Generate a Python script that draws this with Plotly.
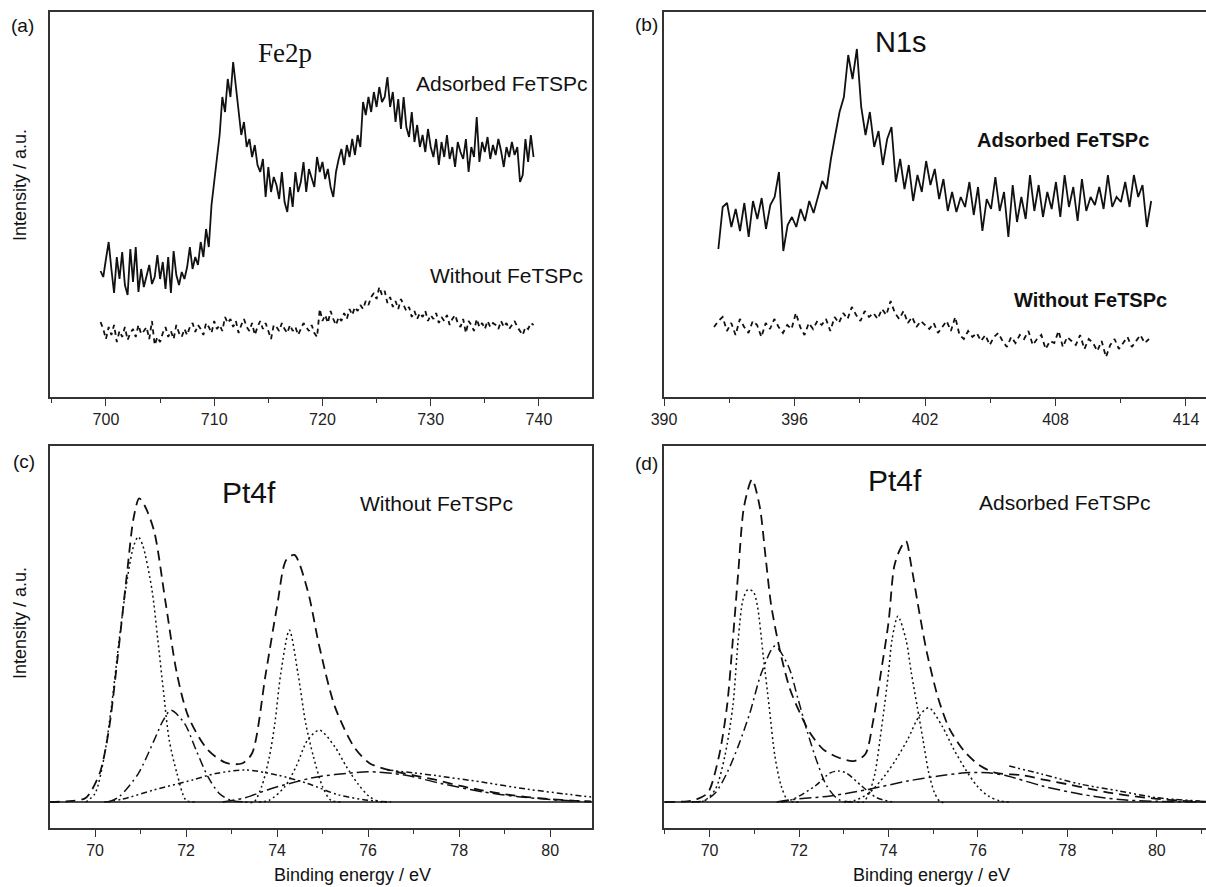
import numpy as np
import plotly.graph_objects as go

W, H = 1206, 887

# ---------------- Panel (a): Fe2p ----------------
a_adsorbed_range = (699.5, 739.5)
a_adsorbed = [126, 120, 138, 155, 128, 104, 140, 118, 145, 112, 102, 148, 115, 150, 105, 128,
              110, 122, 132, 113, 120, 142, 118, 135, 108, 140, 104, 146, 122, 112, 125, 118,
              130, 150, 128, 140, 132, 155, 140, 168, 150, 192, 215, 240, 262, 300, 285, 318,
              300, 335, 312, 290, 262, 275, 250, 258, 240, 252, 232, 225, 238, 200, 230, 205,
              220, 212, 198, 225, 195, 185, 210, 190, 225, 205, 215, 235, 205, 228, 218, 210,
              240, 225, 235, 218, 228, 210, 200, 225, 238, 248, 232, 252, 240, 258, 242, 262,
              250, 295, 282, 300, 285, 305, 290, 310, 295, 300, 320, 290, 305, 275, 298, 268,
              300, 270, 260, 285, 255, 272, 250, 262, 245, 268, 250, 240, 258, 232, 255, 240,
              262, 238, 250, 230, 255, 245, 238, 258, 225, 250, 240, 280, 235, 255, 245, 260,
              238, 252, 242, 258, 246, 230, 250, 240, 255, 242, 250, 215, 222, 258, 235, 262, 240]
a_without_range = (699.5, 739.5)
a_without = [75, 68, 58, 70, 62, 72, 55, 66, 60, 70, 57, 64, 68, 60, 72, 63, 66, 70, 58, 76,
             52, 60, 55, 64, 70, 60, 66, 58, 72, 64, 60, 68, 62, 70, 74, 65, 72, 68, 62, 74,
             70, 64, 76, 68, 72, 66, 80, 74, 78, 70, 76, 64, 72, 78, 70, 66, 74, 62, 70, 76,
             68, 74, 66, 58, 72, 70, 66, 74, 68, 64, 72, 66, 70, 62, 68, 74, 70, 66, 72, 64,
             60, 88, 76, 82, 74, 86, 78, 72, 80, 76, 84, 78, 88, 82, 90, 86, 92, 88, 96, 92,
             100, 104, 98, 110, 102, 106, 94, 100, 90, 96, 88, 98, 92, 86, 90, 80, 86, 78, 84, 80,
             86, 76, 82, 78, 84, 74, 80, 76, 82, 72, 78, 82, 74, 70, 78, 64, 76, 72, 66, 78,
             70, 74, 68, 76, 70, 74, 72, 68, 76, 70, 74, 68, 72, 76, 70, 66, 62, 70, 68, 74, 72]

# ---------------- Panel (b): N1s ----------------
b_adsorbed_range = (392.5, 412.4)
b_adsorbed = [148, 190, 194, 170, 188, 166, 194, 160, 196, 178, 199, 168, 192, 200, 225, 146,
              172, 180, 170, 188, 176, 196, 184, 200, 216, 208, 238, 262, 285, 300, 342, 318,
              348, 290, 262, 285, 250, 266, 232, 258, 270, 215, 238, 208, 232, 196, 222, 205,
              236, 212, 228, 198, 218, 186, 205, 185, 200, 190, 215, 182, 210, 166, 198, 188,
              220, 186, 205, 160, 212, 175, 200, 178, 222, 186, 212, 180, 205, 188, 215, 180,
              222, 190, 210, 176, 218, 186, 200, 192, 210, 188, 222, 190, 200, 195, 215, 190,
              222, 200, 212, 170, 196]
b_without_range = (392.3, 412.3)
b_without = [70, 76, 80, 66, 74, 62, 78, 70, 64, 76, 72, 60, 74, 68, 78, 70, 64, 72, 68, 84,
             70, 62, 74, 68, 76, 72, 78, 66, 80, 74, 84, 78, 90, 82, 76, 86, 80, 84, 78, 88,
             82, 96, 84, 78, 86, 74, 80, 70, 76, 72, 68, 74, 64, 70, 76, 66, 80, 62, 58, 66,
             60, 64, 56, 62, 52, 60, 64, 56, 50, 60, 54, 62, 58, 66, 52, 58, 62, 48, 56, 54,
             66, 50, 60, 56, 52, 62, 48, 58, 54, 46, 56, 40, 52, 58, 48, 54, 60, 50, 56, 62, 54, 58]

# ---------------- Panel (c): Pt4f without FeTSPc ----------------
c_env_x = [69.0, 69.5, 69.8, 70.1, 70.3, 70.5, 70.7, 70.85, 70.97, 71.1, 71.3, 71.55, 71.8, 72.05,
           72.48, 72.9, 73.24, 73.45, 73.75, 74.0, 74.2, 74.38, 74.67, 74.93, 75.27, 75.69, 76.03,
           76.45, 77.0, 77.5, 78.0, 78.5, 79.0, 79.5, 80.0, 80.5, 80.9]
c_env_y = [0, 0.3, 1.2, 8, 20, 41, 64, 80, 85.3, 83, 76, 56, 36, 24, 14.6, 10.9, 10.9, 13.7, 36,
           55, 68, 69.4, 59.5, 43.6, 26.8, 15.5, 10.9, 9, 7.5, 6.2, 4.6, 3.3, 2.2, 1.4, 0.8, 0.4, 0.2]
c_dot1_x = [69.8, 70.0, 70.2, 70.36, 70.53, 70.7, 70.85, 70.95, 71.05, 71.25, 71.38, 71.5, 71.63, 71.8, 72.0, 72.2]
c_dot1_y = [0, 2.4, 12.7, 26.8, 45.5, 62, 72, 74.5, 72, 59.6, 45.5, 31.5, 17.4, 8, 0.5, 0]
c_dd1_x = [70.3, 70.53, 70.95, 71.3, 71.5, 71.67, 71.97, 72.22, 72.48, 72.73, 72.98, 73.3]
c_dd1_y = [0, 1.5, 8, 17.4, 23, 25.8, 22, 14.6, 7.1, 2.4, 0.5, 0]
c_dot2_x = [73.3, 73.49, 73.66, 73.83, 73.95, 74.08, 74.27, 74.46, 74.63, 74.8, 75.0, 75.18, 75.4]
c_dot2_y = [0, 0, 4.3, 12.7, 22, 36, 48.3, 36, 22, 12.7, 4.3, 0.5, 0]
c_dot3_x = [73.6, 73.83, 74.17, 74.42, 74.67, 74.93, 75.27, 75.52, 75.77, 76.03, 76.28, 76.5]
c_dot3_y = [0, 0.5, 4.3, 10, 17.4, 20.2, 15.5, 10, 5.2, 1.5, 0, 0]
c_bgA_x = [70.2, 70.6, 71.3, 72.14, 72.65, 73.3, 74.0, 74.67, 75.35, 76.0, 76.5]
c_bgA_y = [0, 0.8, 3.4, 6.2, 8, 9, 7.6, 5.2, 2, 0.5, 0]
c_bgB_x = [72.8, 73.3, 73.83, 74.67, 75.0, 75.52, 76.0, 76.8, 77.6, 78.5, 79.3, 80.2, 80.9]
c_bgB_y = [0, 1.2, 3.6, 6.5, 7.3, 8, 8.5, 7.6, 5.2, 2.9, 1.5, 0.5, 0.1]
c_bgC_x = [76.42, 77.0, 77.5, 78.5, 79.5, 80.3, 80.9]
c_bgC_y = [9.0, 8.2, 7.4, 5.6, 3.6, 2.3, 1.4]

# ---------------- Panel (d): Pt4f adsorbed FeTSPc ----------------
d_env_x = [69.0, 69.5, 69.7, 69.96, 70.21, 70.39, 70.52, 70.64, 70.77, 70.95, 71.12, 71.25, 71.38,
           71.6, 71.8, 72.02, 72.24, 72.54, 72.88, 73.22, 73.48, 73.65, 73.83, 74.0, 74.13, 74.26,
           74.39, 74.51, 74.69, 74.86, 75.12, 75.37, 75.72, 76.06, 76.4, 77.0, 77.5, 78.0, 78.5,
           79.0, 79.5, 80.0, 80.5, 81.1]
d_env_y = [0, 0.2, 0.7, 2.6, 12.9, 27, 45.7, 64.4, 83, 90.6, 83, 69, 55, 41, 31.6, 25, 19.5, 14.8,
           12.5, 11.5, 13.4, 22.3, 36.3, 50.4, 66.3, 71, 73.3, 66.3, 53.2, 41.9, 28.8, 20.4, 13.9,
           10.1, 8.2, 7.5, 6.2, 5.0, 3.7, 2.5, 1.6, 0.9, 0.4, 0.1]
d_dot1_x = [69.6, 69.87, 70.13, 70.34, 70.52, 70.64, 70.75, 70.86, 70.98, 71.07, 71.2, 71.33, 71.46, 71.6, 71.76, 72.0]
d_dot1_y = [0, 0.3, 3.6, 12.9, 27, 45.7, 57, 59.7, 59, 55, 41, 27, 12.9, 4.5, 0.3, 0]
d_dd1_x = [69.6, 69.87, 70.13, 70.39, 70.64, 70.9, 71.16, 71.46, 71.76, 71.98, 72.19, 72.41, 72.62, 72.88, 73.2]
d_dd1_y = [0, 0.3, 2.6, 8.2, 15.7, 25, 36.3, 43.8, 38.2, 28.8, 19.5, 11, 4.5, 0.7, 0]
d_hump_x = [71.6, 71.85, 72.36, 72.7, 72.88, 73.05, 73.4, 73.74, 74.1]
d_hump_y = [0, 0.7, 4.5, 8.2, 8.7, 8.2, 4.5, 1.2, 0]
d_dot2_x = [73.3, 73.44, 73.57, 73.7, 73.81, 73.91, 74.0, 74.08, 74.21, 74.39, 74.51, 74.64, 74.77, 74.9, 75.03, 75.16, 75.3]
d_dot2_y = [0, 0, 2.6, 8.2, 17.6, 27, 36.3, 45.7, 52.2, 45.7, 36.3, 27, 17.6, 8.2, 2.6, 0, 0]
d_dot3_x = [73.0, 73.22, 73.57, 73.91, 74.17, 74.43, 74.69, 74.9, 75.2, 75.46, 75.72, 75.98, 76.23, 76.49, 76.7]
d_dot3_y = [0, 0.3, 2.6, 7.3, 12, 17.6, 24.2, 26.5, 21.3, 14.8, 9.2, 4.5, 1.7, 0.3, 0]
d_bgB_x = [71.5, 71.85, 72.7, 73.57, 74.43, 75.12, 75.72, 76.23, 76.66, 77.44, 78.3, 79.16, 80.0, 81.1]
d_bgB_y = [0, 0.7, 1.7, 3.6, 5.9, 7.3, 8.2, 8.2, 7.3, 4.5, 2.2, 0.7, 0.2, 0]
d_bgC_x = [76.7, 77.44, 78.3, 79.16, 80.0, 80.96]
d_bgC_y = [10.1, 7.8, 5.0, 3.1, 1.2, 0.3]

# ---------------- styling ----------------
INK = "#111111"
AX = "#333333"
SANS = "Liberation Sans, Arial, sans-serif"
SERIF = "Liberation Serif, Times New Roman, serif"

DASH_ENV = "10px,6px"
DOT = "2px,3px"
DASHDOT = "9px,4px,2px,4px"
DASHDOTDOT = "6px,3px,2px,3px,2px,3px"
LONGDASHDOT = "12px,4px,3px,4px"
NOISE_DASH = "5px,4px"

fig = go.Figure()


def add_line(x, y, ax, dash="solid", width=1.5, spline=False):
    fig.add_trace(go.Scatter(
        x=x, y=y, mode="lines", xaxis="x" + ax, yaxis="y" + ax,
        line=dict(color=INK, width=width, dash=dash,
                  shape="spline" if spline else "linear", smoothing=0.8 if spline else None),
        showlegend=False, hoverinfo="skip"))


def grid(rng, vals):
    return np.linspace(rng[0], rng[1], len(vals))


# (a)
add_line(grid(a_adsorbed_range, a_adsorbed), a_adsorbed, "", width=1.8)
add_line(grid(a_without_range, a_without), a_without, "", dash=NOISE_DASH, width=1.8)
# (b)
add_line(grid(b_adsorbed_range, b_adsorbed), b_adsorbed, "2", width=1.8)
add_line(grid(b_without_range, b_without), b_without, "2", dash=NOISE_DASH, width=1.8)

# (c)
add_line([69.01, 80.92], [0, 0], "3", width=1.6)
add_line(c_bgA_x, c_bgA_y, "3", dash=DASHDOTDOT, spline=True)
add_line(c_bgB_x, c_bgB_y, "3", dash=LONGDASHDOT, spline=True)
add_line(c_bgC_x, c_bgC_y, "3", dash=DASHDOTDOT, spline=True)
add_line(c_dd1_x, c_dd1_y, "3", dash=DASHDOT, spline=True)
add_line(c_dot1_x, c_dot1_y, "3", dash=DOT, spline=True)
add_line(c_dot2_x, c_dot2_y, "3", dash=DOT, spline=True)
add_line(c_dot3_x, c_dot3_y, "3", dash=DOT, spline=True)
add_line(c_env_x, c_env_y, "3", dash=DASH_ENV, width=1.8, spline=True)

# (d)
add_line([68.98, 81.1], [0, 0], "4", width=1.6)
add_line(d_bgB_x, d_bgB_y, "4", dash=LONGDASHDOT, spline=True)
add_line(d_bgC_x, d_bgC_y, "4", dash=DASHDOTDOT, spline=True)
add_line(d_hump_x, d_hump_y, "4", dash=DASHDOTDOT, spline=True)
add_line(d_dd1_x, d_dd1_y, "4", dash=DASHDOT, spline=True)
add_line(d_dot1_x, d_dot1_y, "4", dash=DOT, spline=True)
add_line(d_dot2_x, d_dot2_y, "4", dash=DOT, spline=True)
add_line(d_dot3_x, d_dot3_y, "4", dash=DOT, spline=True)
add_line(d_env_x, d_env_y, "4", dash=DASH_ENV, width=1.8, spline=True)


def dx(l, r):
    return [l / W, r / W]


def dy(t, b):
    return [1 - b / H, 1 - t / H]


def xax(domain, rng, dtick, minor, anchor, mirror):
    return dict(domain=domain, range=rng, anchor=anchor, dtick=dtick, tick0=0,
                showline=True, linecolor=AX, linewidth=1.5, mirror=mirror,
                ticks="outside", ticklen=7, tickwidth=1.2, tickcolor=AX,
                minor=dict(ticks="outside", ticklen=4, tickwidth=1.2, tickcolor=AX, dtick=minor, showgrid=False),
                showgrid=False, zeroline=False, automargin=False,
                tickfont=dict(family=SANS, size=16, color="#222"))


def yax(domain, rng, anchor, mirror):
    return dict(domain=domain, range=rng, anchor=anchor, showline=True, linecolor=AX,
                linewidth=1.5, mirror=mirror, ticks="", showticklabels=False,
                showgrid=False, zeroline=False, automargin=False)


fig.update_layout(
    width=W, height=H, margin=dict(l=0, r=0, t=0, b=0),
    paper_bgcolor="white", plot_bgcolor="white",
    xaxis=xax(dx(50, 592), [694.83, 744.9], 10, 5, "y", True),
    yaxis=yax(dy(12, 397), [0, 385], "x", True),
    xaxis2=xax(dx(664, 1206), [390, 414.92], 6, 3, "y2", True),
    yaxis2=yax(dy(12, 397), [0, 385], "x2", False),
    xaxis3=xax(dx(50, 592), [69.01, 80.92], 2, 1, "y3", True),
    yaxis3=yax(dy(446, 828), [-7.3, 100], "x3", True),
    xaxis4=xax(dx(664, 1206), [68.98, 81.1], 2, 1, "y4", True),
    yaxis4=yax(dy(446, 828), [-7.3, 100], "x4", False),
)


def note(text, x, y, size, family=SANS, bold=False, angle=0):
    if bold:
        text = "<b>" + text + "</b>"
    fig.add_annotation(text=text, x=x / W, y=1 - y / H, xref="paper", yref="paper",
                       xanchor="center", yanchor="middle", showarrow=False, textangle=angle,
                       font=dict(family=family, size=size, color=INK))


note("(a)", 22, 26, 19)
note("(b)", 646, 24, 19)
note("(c)", 24, 461, 19)
note("(d)", 646, 463, 19)
note("Fe2p", 285, 53, 27, family=SERIF)
note("Adsorbed FeTSPc", 502, 83, 21)
note("Without FeTSPc", 507, 275, 21)
note("N1s", 901, 42, 29)
note("Adsorbed FeTSPc", 1063, 140, 20, bold=True)
note("Without FeTSPc", 1090, 300, 20, bold=True)
note("Pt4f", 249, 492, 30)
note("Without FeTSPc", 436, 503, 21)
note("Pt4f", 895, 480, 30)
note("Adsorbed FeTSPc", 1065, 502, 21)
note("Intensity / a.u.", 20, 185, 18, angle=-90)
note("Intensity / a.u.", 20, 623, 18, angle=-90)
note("Binding energy / eV", 352, 875, 18)
note("Binding energy / eV", 931, 875, 18)

fig.write_html("out.html")
